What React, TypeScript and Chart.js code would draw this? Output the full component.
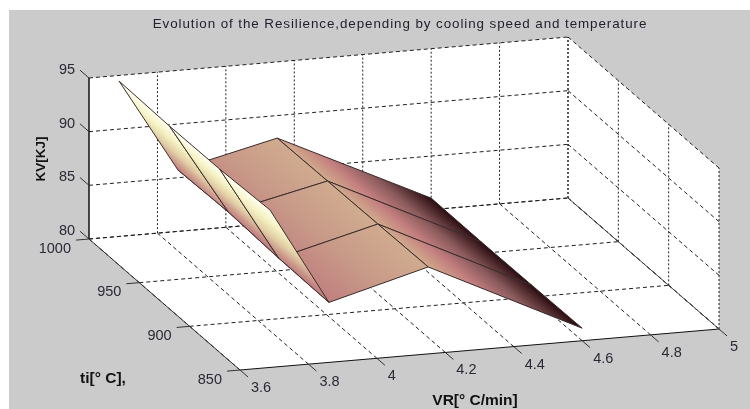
import React, { useEffect, useRef } from "react";
import { Chart, registerables } from "chart.js";

Chart.register(...registerables);

const TITLE = "Evolution of the Resilience,depending by cooling speed and temperature";
const VR_TICKS = [3.6, 3.8, 4, 4.2, 4.4, 4.6, 4.8, 5];
const TI_TICKS = [1000, 950, 900, 850];
const KV_TICKS = [80, 85, 90, 95];

const VR_NODES = [3.688, 3.86, 4.15, 4.6];
const TI_NODES = [1000, 950, 900, 850];
const KV_1000 = [94.47, 85.72, 87.9, 81.08];
const KV_950 = [94.35, 85.88, 87.97, 81.05];
const KV_900 = [94.4, 85.65, 88.03, 81.1];
const KV_850 = [94.66, 85.59, 88.1, 81.17];
const KV_ROWS = [KV_1000, KV_950, KV_900, KV_850];

const VR_MIN = 3.6, VR_MAX = 5, TI_MIN = 850, TI_MAX = 1000, KV_MIN = 80, KV_MAX = 95;

const STRIP_STOPS: [number, string][][] = [
  [[0, "#fffff0"], [0.3, "#f5f2c4"], [0.6, "#e2cfa6"], [0.85, "#cc9a8c"], [1, "#c08080"]],
  [[0, "#c07f7f"], [0.5, "#c89a88"], [1, "#d0ab8f"]],
  [[0, "#d0aa8c"], [0.3, "#c47f7f"], [0.62, "#8a5a5c"], [1, "#2a0c10"]],
];

const FONT = "'Liberation Sans', Arial, sans-serif";
const INK = "#2a2a36";

function project(vr: number, ti: number, kv: number) {
  const a = (vr - VR_MIN) / (VR_MAX - VR_MIN);
  const b = (TI_MAX - ti) / (TI_MAX - TI_MIN);
  const c = (kv - KV_MIN) / (KV_MAX - KV_MIN);
  return { x: 89 + 479 * a + 151 * b, y: 239 - 41 * a + 131 * b - 161 * c };
}

const seg = (pts: number[][], color: string, dash: number[] = [], width = 1, extra: any = {}) => ({
  data: pts.map(([v, t, k]) => project(v, t, k)),
  showLine: true,
  borderColor: color,
  borderWidth: width,
  borderDash: dash,
  pointRadius: 0,
  fill: false,
  clip: false,
  ...extra,
});

const wall = (pts: number[][]) =>
  seg([...pts, pts[0]], "rgba(0,0,0,0)", [], 0, { fill: "shape", backgroundColor: "#ffffff" });

function quad(i: number, j: number) {
  const node = (r: number, c: number) => [VR_NODES[c], TI_NODES[r], KV_ROWS[r][c]];
  const a = node(i, j), b = node(i, j + 1), c = node(i + 1, j + 1), d = node(i + 1, j);
  return seg([a, b, c, d, a], "#3a2c2c", [], 1, {
    fill: "shape",
    backgroundColor: (ctx: any) => {
      const chart = ctx.chart;
      if (!chart.chartArea) return "#c08080";
      const px = (n: number[]) => {
        const p = project(n[0], n[1], n[2]);
        return { x: chart.scales.x.getPixelForValue(p.x), y: chart.scales.y.getPixelForValue(p.y) };
      };
      const pa = px(a), pb = px(b), pd = px(d);
      const ex = pd.x - pa.x, ey = pd.y - pa.y;
      const len = Math.hypot(ex, ey);
      const nx = -ey / len, ny = ex / len;
      const dist = (pb.x - pa.x) * nx + (pb.y - pa.y) * ny;
      const g = chart.ctx.createLinearGradient(pa.x, pa.y, pa.x + nx * dist, pa.y + ny * dist);
      STRIP_STOPS[j].forEach(([o, col]) => g.addColorStop(o, col));
      return g;
    },
  });
}

function buildDatasets() {
  const list: any[] = [];
  const GRID = "#202020";
  const DASH = [4, 3];
  const DOT = [2, 2];
  list.push(wall([[VR_MIN, TI_MAX, KV_MIN], [VR_MIN, TI_MIN, KV_MIN], [VR_MAX, TI_MIN, KV_MIN], [VR_MAX, TI_MAX, KV_MIN]]));
  list.push(wall([[VR_MIN, TI_MAX, KV_MIN], [VR_MAX, TI_MAX, KV_MIN], [VR_MAX, TI_MAX, KV_MAX], [VR_MIN, TI_MAX, KV_MAX]]));
  list.push(wall([[VR_MAX, TI_MAX, KV_MIN], [VR_MAX, TI_MIN, KV_MIN], [VR_MAX, TI_MIN, KV_MAX], [VR_MAX, TI_MAX, KV_MAX]]));

  KV_TICKS.forEach((k) => {
    list.push(seg([[VR_MIN, TI_MAX, k], [VR_MAX, TI_MAX, k]], GRID, DASH));
    list.push(seg([[VR_MAX, TI_MAX, k], [VR_MAX, TI_MIN, k]], GRID, DASH));
  });
  VR_TICKS.forEach((v) => {
    if (v > VR_MIN) list.push(seg([[v, TI_MAX, KV_MIN], [v, TI_MAX, KV_MAX]], GRID, DOT));
    list.push(seg([[v, TI_MAX, KV_MIN], [v, TI_MIN, KV_MIN]], GRID, DASH));
  });
  TI_TICKS.forEach((t) => {
    list.push(seg([[VR_MAX, t, KV_MIN], [VR_MAX, t, KV_MAX]], GRID, DOT));
    if (t !== TI_MIN) list.push(seg([[VR_MIN, t, KV_MIN], [VR_MAX, t, KV_MIN]], GRID, DASH));
  });

  // axis lines and tick marks
  list.push(seg([[VR_MIN, TI_MAX, KV_MIN], [VR_MIN, TI_MAX, KV_MAX]], "#111111", [], 1.5));
  list.push(seg([[VR_MIN, TI_MAX, KV_MIN], [VR_MIN, TI_MIN, KV_MIN]], "#333333"));
  list.push(seg([[VR_MIN, TI_MIN, KV_MIN], [VR_MAX, TI_MIN, KV_MIN]], "#111111"));
  list.push(seg([[VR_MAX, TI_MAX, KV_MIN], [VR_MAX, TI_MIN, KV_MIN]], "#444444"));
  KV_TICKS.forEach((k) => list.push(seg([[VR_MIN, TI_MAX, k], [VR_MIN, TI_MAX + 9, k]], "#333333")));
  TI_TICKS.forEach((t) => list.push(seg([[VR_MIN, t, KV_MIN], [VR_MIN - 0.038, t, KV_MIN]], "#333333")));
  VR_TICKS.forEach((v) => list.push(seg([[v, TI_MIN, KV_MIN], [v, TI_MIN - 8, KV_MIN]], "#333333")));

  // surface: far strips first
  for (let j = VR_NODES.length - 2; j >= 0; j--) {
    for (let i = 0; i < TI_NODES.length - 1; i++) list.push(quad(i, j));
  }
  return list.reverse(); // Chart.js paints the last dataset first
}

const titleSpacingPlugin = {
  id: "titleSpacing",
  beforeDraw(chart: any) {
    chart.ctx.letterSpacing = "0.92px";
  },
  beforeDatasetsDraw(chart: any) {
    chart.ctx.letterSpacing = "0px";
  },
};

const labelsPlugin = {
  id: "axisText",
  afterDatasetsDraw(chart: any) {
    const { ctx, scales } = chart;
    const at = (vr: number, ti: number, kv: number) => {
      const p = project(vr, ti, kv);
      return { x: scales.x.getPixelForValue(p.x), y: scales.y.getPixelForValue(p.y) };
    };
    const put = (text: string, x: number, y: number, align: CanvasTextAlign) => {
      ctx.textAlign = align;
      ctx.fillText(text, x, y);
    };
    ctx.save();
    ctx.textBaseline = "middle";
    ctx.fillStyle = INK;
    ctx.font = `14.5px ${FONT}`;
    KV_TICKS.forEach((k) => {
      const p = at(VR_MIN, TI_MAX, k);
      put(String(k), p.x - 22, p.y - 8, "center");
    });
    TI_TICKS.forEach((t) => {
      const p = at(VR_MIN, t, KV_MIN);
      put(String(t), p.x - 18, p.y + 9.5, "right");
    });
    VR_TICKS.forEach((v) => {
      const p = at(v, TI_MIN, KV_MIN);
      put(String(v), p.x + 11, p.y + 18, "left");
    });
    ctx.fillStyle = "#111111";
    ctx.font = `bold 15.5px ${FONT}`;
    const sx = scales.x, sy = scales.y;
    put("VR[° C/min]", sx.getPixelForValue(475), sy.getPixelForValue(401), "center");
    put("ti[° C],", sx.getPixelForValue(103), sy.getPixelForValue(379), "center");
    ctx.font = `bold 13.5px ${FONT}`;
    ctx.translate(sx.getPixelForValue(41), sy.getPixelForValue(159));
    ctx.rotate(-Math.PI / 2);
    put("KV[KJ]", 0, 0, "center");
    ctx.restore();
  },
};

export default function App() {
  const ref = useRef<HTMLCanvasElement>(null);
  useEffect(() => {
    document.body.style.margin = "0";
    document.body.style.background = "#ffffff";
    const chart = new Chart(ref.current as HTMLCanvasElement, {
      type: "scatter",
      data: { datasets: buildDatasets() },
      plugins: [titleSpacingPlugin, labelsPlugin],
      options: {
        animation: false,
        responsive: false,
        events: [],
        layout: { padding: { left: 41 } },
        plugins: {
          legend: { display: false },
          tooltip: { enabled: false },
          title: {
            display: true,
            text: TITLE,
            color: "#22222e",
            font: { family: FONT, size: 13.4, weight: "normal", lineHeight: 1 },
            padding: { top: 7.3, bottom: 0.3 },
          },
        },
        scales: {
          x: { type: "linear", display: false, min: 50, max: 750 },
          y: { type: "linear", display: false, min: 31, max: 409, reverse: true },
        },
      },
    } as any);
    return () => chart.destroy();
  }, []);
  return (
    <div style={{ width: 750, height: 409, background: "#ffffff", overflow: "hidden" }}>
      <canvas
        ref={ref}
        width={741}
        height={399}
        style={{ display: "block", marginLeft: 9, position: "relative", top: 10, background: "#cbcbcb" }}
      />
    </div>
  );
}
